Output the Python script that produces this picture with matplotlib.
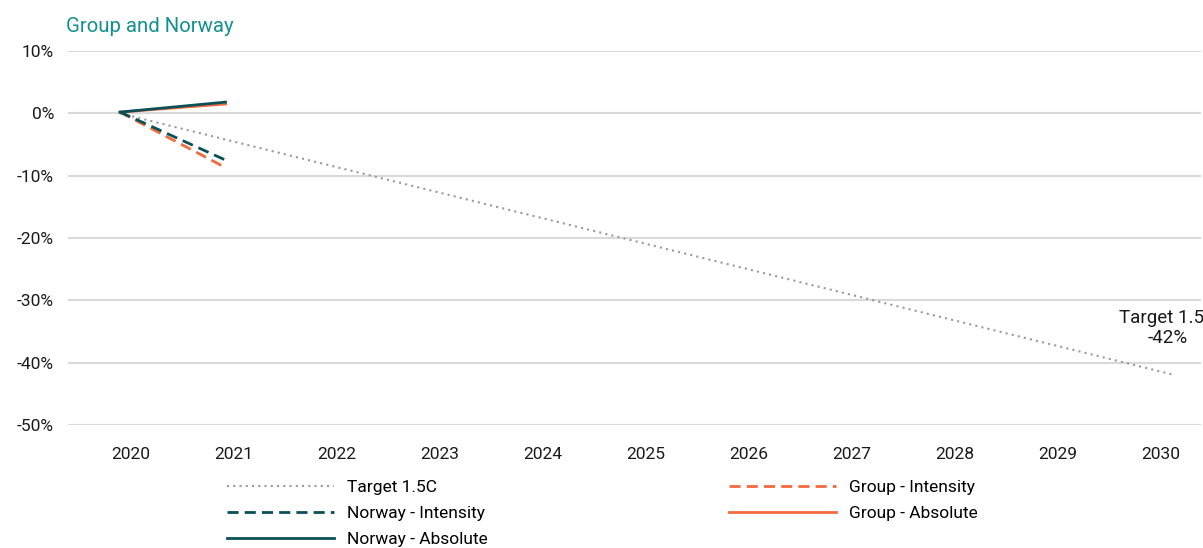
import matplotlib
matplotlib.use("Agg")
import matplotlib.pyplot as plt
from matplotlib.ticker import FuncFormatter

plt.rcParams['font.family'] = ['Roboto', 'DejaVu Sans']

years = [2020, 2021, 2022, 2023, 2024, 2025, 2026, 2027, 2028, 2029, 2030]
target_years = [2020, 2030]
target_vals = [0.0, -42.0]
series_years = [2020, 2021]
norway_intensity = [0.2, -7.5]
group_intensity = [0.2, -8.7]
norway_absolute = [0.2, 1.8]
group_absolute = [0.2, 1.5]
yticks = [10, 0, -10, -20, -30, -40, -50]

TEAL = '#0b5057'
ORANGE = '#f26a3f'
GREY = '#9a9a9a'
GRID = '#d9d9d9'
TITLE = '#14918f'
FS = 12.5

W, H = 1203, 548
fig = plt.figure(figsize=(W / 100, H / 100), dpi=100)
left, right, top, bottom = 68, 1201, 51, 425
ax = fig.add_axes([left / W, 1 - bottom / H, (right - left) / W, (bottom - top) / H])

ax.set_ylim(-50, 10)
ax.set_yticks(yticks)
ax.yaxis.set_major_formatter(FuncFormatter(lambda v, p: f"{int(v)}%"))
ax.set_xlim(2020 - 63 / 103, 2020 + 1070 / 103)
ax.set_xticks(years)
ax.set_xticklabels([str(y) for y in years])
ax.grid(axis='y', color=GRID, linewidth=1.5)
ax.set_axisbelow(True)
for s in ax.spines.values():
    s.set_visible(False)
ax.tick_params(axis='both', length=0, labelsize=FS, colors='#1a1a1a')
ax.tick_params(axis='y', pad=10)
ax.tick_params(axis='x', pad=16)

ax2 = ax.twiny()
ax2.set_xlim(2020 - 52 / 105.5, 2020 + 1081 / 105.5)
ax2.set_ylim(-50, 10)
ax2.axis('off')

l_t, = ax2.plot(target_years, target_vals, color=GREY, linestyle=(0, (1, 2)), linewidth=1.5,
                label='Target 1.5C')
l_ni, = ax2.plot(series_years, norway_intensity, color=TEAL, linestyle=(0, (4, 2.2)), linewidth=2,
                 label='Norway - Intensity')
l_na, = ax2.plot(series_years, norway_absolute, color=TEAL, linewidth=2, label='Norway - Absolute')
l_gi, = ax2.plot(series_years, group_intensity, color=ORANGE, linestyle=(0, (4, 2.2)), linewidth=2,
                 label='Group - Intensity')
l_ga, = ax2.plot(series_years, group_absolute, color=ORANGE, linewidth=2, label='Group - Absolute')
l_na.set_zorder(5)
l_ni.set_zorder(5)

ax2.annotate('Target 1.5C\n-42%', xy=(target_years[-1], target_vals[-1]), xytext=(-5, 34),
             textcoords='offset points', ha='center', va='center', fontsize=13.5,
             color='#1a1a1a', multialignment='center', annotation_clip=False,
             linespacing=1.2)

fig.text(66 / W, 1 - 26 / H, 'Group and Norway', color=TITLE, fontsize=14.7, ha='left', va='center')

handles = [l_t, l_ni, l_na, l_gi, l_ga]
leg = fig.legend(handles=handles, labels=[h.get_label() for h in handles], ncol=2,
                 loc='upper left', bbox_to_anchor=(227 / W, 1 - 480 / H), frameon=False,
                 fontsize=FS, handlelength=6.15, handletextpad=0.75, columnspacing=13.9,
                 labelspacing=0.62, borderaxespad=0, borderpad=0)

fig.savefig('out.png', dpi=100)
